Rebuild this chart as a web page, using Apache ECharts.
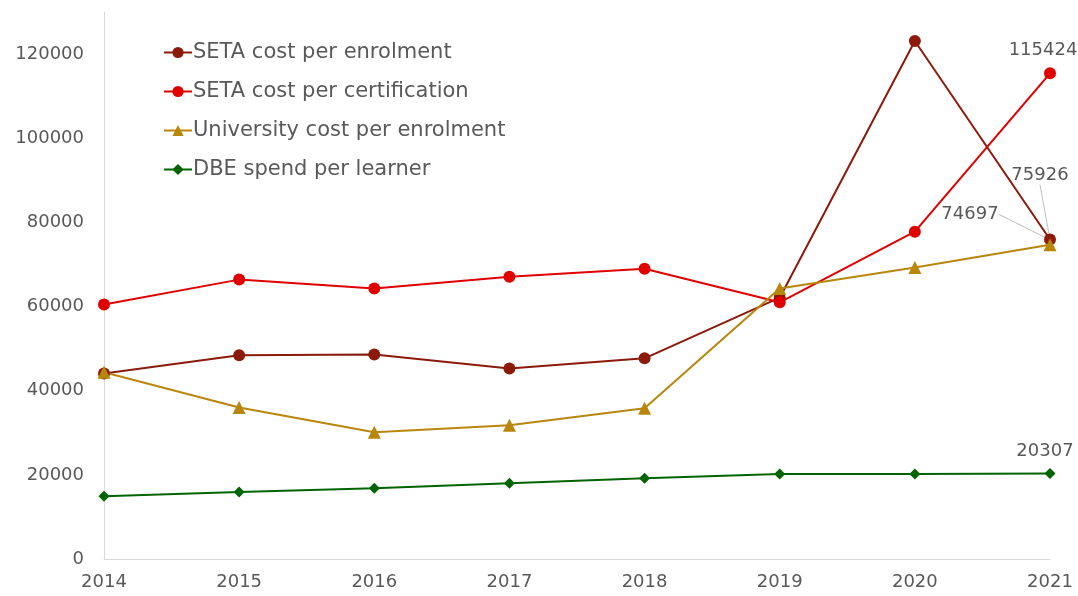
<!DOCTYPE html>
<html>
<head>
<meta charset="utf-8">
<script src="https://cdn.jsdelivr.net/npm/echarts@6/dist/echarts.min.js"></script>
<style>html,body{margin:0;padding:0;background:#fff}#c{width:1078px;height:596px}</style>
</head>
<body>
<div id="c"></div>
<script>
const years = ['2014','2015','2016','2017','2018','2019','2020','2021'];
const setaEnrol = [44100, 48400, 48600, 45300, 47700, 62100, 123100, 75926];
const setaCert = [60500, 66400, 64300, 67100, 69000, 61000, 77800, 115424];
const uniEnrol = [44400, 36000, 30100, 31800, 35800, 64300, 69300, 74697];
const dbeSpend = [14900, 15900, 16800, 18000, 19200, 20200, 20200, 20307];
const yTicks = [0, 20000, 40000, 60000, 80000, 100000, 120000];

const FONT = '"DejaVu Sans", sans-serif';
const TXT = '#595959';

function withLastLabel(arr) {
  return arr.map((v, i) => i === arr.length - 1
    ? { value: v, label: { show: true } }
    : v);
}

function mk(name, data, color, symbol, size, layout, showLine) {
  return {
    name, type: 'line', data: withLastLabel(data),
    symbol, symbolSize: size,
    lineStyle: { color, width: 2 },
    itemStyle: { color },
    label: { show: false, position: 'top', distance: 8, color: TXT, fontSize: 18, fontFamily: FONT },
    labelLine: { show: showLine, lineStyle: { color: '#bfbfbf', width: 1 } },
    labelLayout: layout,
    emphasis: { disabled: true },
    animation: false,
    z: 2
  };
}

const chart = echarts.init(document.getElementById('c'));
chart.setOption({
  backgroundColor: '#fff',
  animation: false,
  grid: { left: 104, right: 28, top: 12, bottom: 37 },
  legend: {
    orient: 'vertical', left: 158, top: 37, itemGap: 18, itemWidth: 28, itemHeight: 14,
    textStyle: { color: TXT, fontSize: 21, fontFamily: FONT, padding: [0, 0, 0, -4] },
    data: ['SETA cost per enrolment', 'SETA cost per certification', 'University cost per enrolment', 'DBE spend per learner']
  },
  xAxis: {
    type: 'category', data: years, boundaryGap: false,
    axisLine: { lineStyle: { color: '#d9d9d9' } },
    axisTick: { show: false },
    axisLabel: { color: TXT, fontSize: 18, fontFamily: FONT, margin: 14 },
    splitLine: { show: false }
  },
  yAxis: {
    type: 'value', min: 0, max: 130000, interval: 20000,
    axisLine: { show: true, lineStyle: { color: '#d9d9d9' } },
    axisTick: { show: false },
    splitLine: { show: false },
    axisLabel: {
      color: TXT, fontSize: 18, fontFamily: FONT, margin: 20,
      formatter: v => yTicks.includes(v) ? String(v) : ''
    }
  },
  series: [
    mk('SETA cost per enrolment', setaEnrol, '#8b1a0a', 'circle', 12, { dx: -10, dy: -41 }, true),
    mk('SETA cost per certification', setaCert, '#e00000', 'circle', 12, { dx: -7, dy: 0 }, false),
    mk('University cost per enrolment', uniEnrol, '#b8860b', 'triangle', 13, { dx: -80, dy: -7 }, true),
    mk('DBE spend per learner', dbeSpend, '#006400', 'diamond', 11, { dx: -5, dy: 0 }, false)
  ]
});
</script>
</body>
</html>
